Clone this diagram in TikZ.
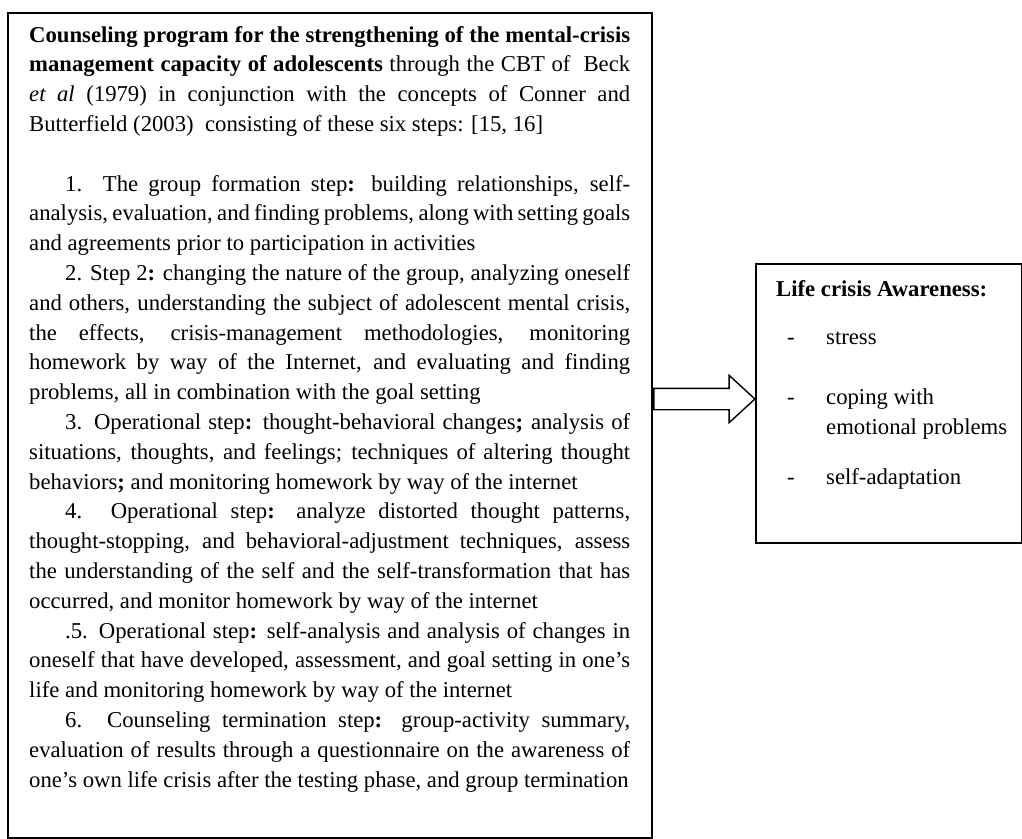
\documentclass[tikz,border=0pt]{standalone}
\usepackage{fontspec}
\setmainfont{Liberation Serif}
\usetikzlibrary{shapes.arrows}
\tikzset{
  box/.style={draw, line width=2.2pt, inner sep=0pt},
  txt/.style={inner sep=0pt, anchor=base west, font=\fontsize{22.7}{28}\selectfont},
  blockarrow/.style={draw, line width=1.4pt, fill=white, single arrow, single arrow head extend=13pt,
    single arrow tip angle=85, inner xsep=0pt, inner ysep=10pt, minimum height=101pt},
}
\newcommand\myjust[4]{\node[txt] (#1) at (#2,#3) {\makebox[\dimexpr630pt-#2pt\relax][s]{#4}};}
\newcommand\mylast[4]{\node[txt] (#1) at (#2,#3) {#4};}
\begin{document}
\begin{tikzpicture}[x=1pt,y=-1pt]
\useasboundingbox (0,0) rectangle (1022,838);
% boxes
\node[box, anchor=north west, minimum width=644pt, minimum height=825pt] (L) at (7,12) {};
\node[box, anchor=north west, minimum width=266pt, minimum height=279pt] (R) at (755,263) {};
% arrow from the left box to the right box
\node[blockarrow, anchor=west] (A) at (L.east |- 0,399) {};
% intro
\myjust{t1}{29}{42}{\textbf{Counseling program for the strengthening of the mental-crisis}}
\myjust{t2}{29}{71.8}{\textbf{management capacity of adolescents} through the CBT of \ Beck}
\myjust{t3}{29}{101.6}{\textit{et al} (1979) in conjunction with the concepts of Conner and}
\mylast{t4}{29}{131.4}{Butterfield (2003) \ consisting of these six steps: [15, 16]}
% item 1
\myjust{a1}{65}{191}{1. The group formation step\textbf{:} building relationships, self-}
\myjust{a2}{29}{220.8}{analysis, evaluation, and finding problems, along with setting goals}
\mylast{a3}{29}{250.6}{and agreements prior to participation in activities}
% item 2
\myjust{b1}{65}{280.4}{2. Step 2\textbf{:} changing the nature of the group, analyzing oneself}
\myjust{b2}{29}{310.2}{and others, understanding the subject of adolescent mental crisis,}
\myjust{b3}{29}{340}{the effects, crisis-management methodologies, monitoring}
\myjust{b4}{29}{369.8}{homework by way of the Internet, and evaluating and finding}
\mylast{b5}{29}{399.6}{problems, all in combination with the goal setting}
% item 3
\myjust{c1}{65}{429.4}{3. Operational step\textbf{:} thought-behavioral changes\textbf{;} analysis of}
\myjust{c2}{29}{459.2}{situations, thoughts, and feelings; techniques of altering thought}
\mylast{c3}{29}{489}{behaviors\textbf{;} and monitoring homework by way of the internet}
% item 4
\myjust{d1}{65}{518.8}{4. Operational step\textbf{:} analyze distorted thought patterns,}
\myjust{d2}{29}{548.6}{thought-stopping, and behavioral-adjustment techniques, assess}
\myjust{d3}{29}{578.4}{the understanding of the self and the self-transformation that has}
\mylast{d4}{29}{608.2}{occurred, and monitor homework by way of the internet}
% item 5
\myjust{e1}{65}{638}{.5. Operational step\textbf{:} self-analysis and analysis of changes in}
\myjust{e2}{29}{667.8}{oneself that have developed, assessment, and goal setting in one’s}
\mylast{e3}{29}{697.6}{life and monitoring homework by way of the internet}
% item 6
\myjust{f1}{65}{727.4}{6. Counseling termination step\textbf{:} group-activity summary,}
\myjust{f2}{29}{757.2}{evaluation of results through a questionnaire on the awareness of}
\mylast{f3}{29}{787}{one’s own life crisis after the testing phase, and group termination}
% right box content
\mylast{r0}{776}{296}{\textbf{Life crisis Awareness:}}
\mylast{r1d}{787}{344}{-}
\mylast{r1}{826}{344}{stress}
\mylast{r2d}{787}{404}{-}
\mylast{r2}{826}{404}{coping with}
\mylast{r3}{826}{434}{emotional problems}
\mylast{r4d}{787}{484}{-}
\mylast{r4}{826}{484}{self-adaptation}
\end{tikzpicture}
\end{document}
